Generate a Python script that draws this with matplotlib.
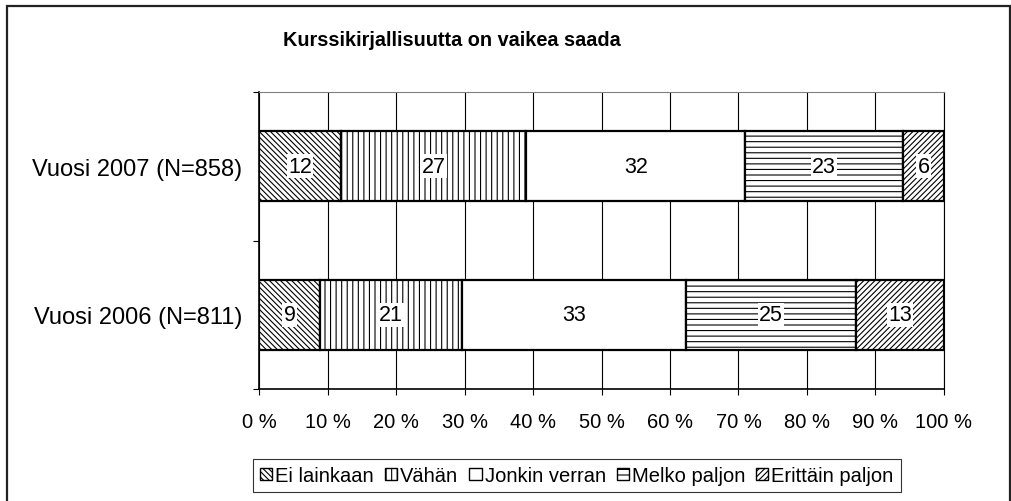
import numpy
from matplotlib import pyplot
from matplotlib.patches import Rectangle, Patch
from matplotlib.ticker import MultipleLocator, FixedLocator, PercentFormatter

# data
years = ['Vuosi 2006 (N=811)', 'Vuosi 2007 (N=858)']
answers = ['Ei lainkaan', 'Vähän', 'Jonkin verran', 'Melko paljon', 'Erittäin paljon']
values_2006 = [9, 21, 33, 25, 13]
values_2007 = [12, 27, 32, 23, 6]
title = 'Kurssikirjallisuutta on vaikea saada'

# styles
hatches = ['\\' * 6, '|||', '', '---', '/' * 6]

pyplot.rcParams['font.family'] = ['Liberation Sans', 'DejaVu Sans']
pyplot.rcParams['hatch.linewidth'] = 0.8

figure = pyplot.figure(figsize=(10.12, 5.02), dpi=100)
axes = figure.add_axes([259 / 1012, 112 / 502, 685 / 1012, 297 / 502])

data = numpy.array([values_2006, values_2007], dtype=float)
shares = data / data.sum(axis=1, keepdims=True) * 100
starts = numpy.cumsum(shares, axis=1) - shares
y_positions = numpy.arange(len(years))

# vertical grid lines behind the bars
axes.set_axisbelow(True)
axes.xaxis.grid(True, color='black', linewidth=0.8)

for i, answer in enumerate(answers):
    axes.barh(y_positions, shares[:, i], left=starts[:, i], height=0.47,
              color='white', edgecolor='black', linewidth=1.6, hatch=hatches[i])
    for row in range(len(years)):
        axes.text(starts[row, i] + shares[row, i] / 2, y_positions[row], '%d' % data[row, i],
                  ha='center', va='center', fontsize=15.5,
                  bbox={'facecolor': 'white', 'edgecolor': 'none', 'pad': 1})

# axes setup
axes.set_xlim(0, 100)
axes.set_ylim(-0.5, 1.5)
axes.xaxis.set_major_locator(MultipleLocator(10))
axes.xaxis.set_major_formatter(PercentFormatter(decimals=0, symbol=' %'))
axes.yaxis.set_major_locator(FixedLocator([-0.5, 0.5, 1.5]))
axes.yaxis.set_major_formatter(pyplot.NullFormatter())
axes.yaxis.set_minor_locator(FixedLocator(y_positions))
axes.set_yticklabels(years, minor=True)
axes.tick_params(which='major', length=4.5, width=0.8, labelsize=14.5, pad=12)
axes.tick_params(axis='y', which='minor', length=0, labelsize=17, pad=12)
axes.spines['top'].set_color('#808080')
axes.spines['right'].set_color('black')
axes.spines['right'].set_linewidth(0.8)
axes.spines['left'].set_linewidth(1.2)
axes.spines['bottom'].set_linewidth(1.2)

figure.text(452 / 1012, 1 - 40 / 502, title, ha='center', va='center',
            fontsize=14.3, fontweight='bold')

# legend
handles = [Patch(facecolor='white', edgecolor='black', hatch=h, linewidth=1) for h in hatches]
legend = figure.legend(handles, answers, loc='upper center', ncol=5,
                       bbox_to_anchor=(577 / 1012, 1 - 460 / 502),
                       fontsize=14.5, frameon=True, fancybox=False,
                       handlelength=0.6, handleheight=0.6, handletextpad=0.15,
                       columnspacing=0.55, borderpad=0.35, borderaxespad=0)
legend.get_frame().set_edgecolor('black')
legend.get_frame().set_linewidth(0.8)

# chart border
figure.patches.append(Rectangle((7 / 1012, -0.02), 1003 / 1012, 1 - 7 / 502 + 0.02,
                                transform=figure.transFigure, fill=False,
                                edgecolor='#222222', linewidth=1.6))

figure.savefig('out.png', dpi=100)
